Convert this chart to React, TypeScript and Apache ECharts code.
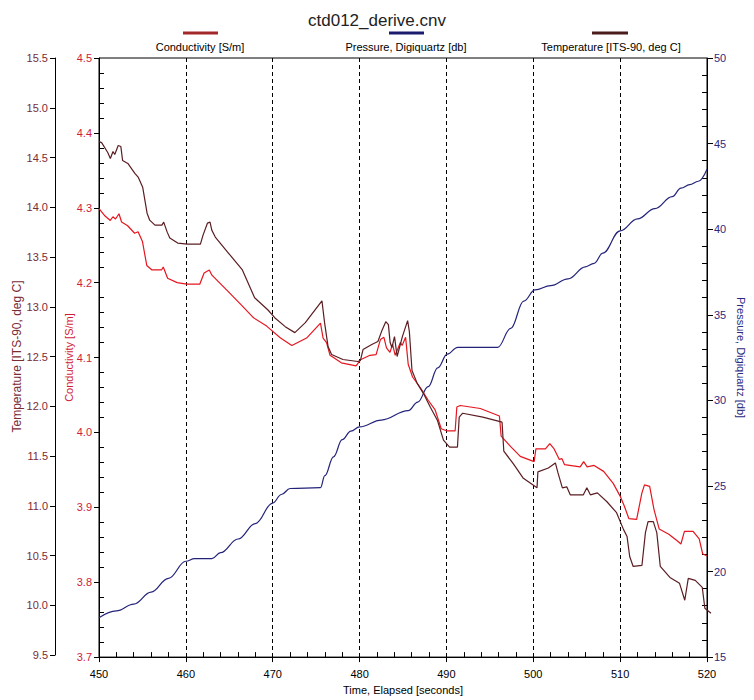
import { useEffect, useRef } from "react";
import * as echarts from "echarts";

const TITLE = "ctd012_derive.cnv";
const X_NAME = "Time, Elapsed [seconds]";
const COND_NAME = "Conductivity [S/m]";
const PRES_NAME = "Pressure, Digiquartz [db]";
const TEMP_NAME = "Temperature [ITS-90, deg C]";

const timeRange = [450, 520];
const condRange = [3.7, 4.5];
const presRange = [15, 50];
const tempRange = [9.5, 15.5];

// [time (s), conductivity (S/m)]
const conductivityPoints: [number, number][] = [
  [450, 4.299], [450.7, 4.289], [451.3, 4.283], [451.6, 4.288], [451.9, 4.285], [452.3, 4.292],
  [452.6, 4.281], [453.3, 4.276], [454.1, 4.266], [454.5, 4.268], [455, 4.255], [455.5, 4.223],
  [456.1, 4.217], [457.2, 4.217], [457.4, 4.221], [457.9, 4.206], [459, 4.2], [460.1, 4.198],
  [461.6, 4.198], [462.1, 4.213], [462.7, 4.217], [463, 4.21], [464.8, 4.189], [466.4, 4.17],
  [467.8, 4.153], [469.3, 4.142], [470.9, 4.126], [472.2, 4.116], [473.9, 4.126], [475.5, 4.146],
  [475.8, 4.126], [476.2, 4.12], [476.6, 4.103], [477.9, 4.093], [479.6, 4.089], [480.1, 4.097],
  [481.2, 4.103], [481.9, 4.104], [482.4, 4.124], [482.8, 4.127], [483.1, 4.113], [483.5, 4.107],
  [483.8, 4.118], [484.1, 4.103], [484.7, 4.12], [484.9, 4.116], [485.3, 4.127], [485.6, 4.091],
  [486.1, 4.074], [487.1, 4.058], [487.9, 4.043], [488.7, 4.03], [489.4, 4.005], [490.1, 4.002],
  [491, 4.002], [491.2, 4.034], [491.6, 4.036], [493.9, 4.032], [496.1, 4.022], [496.3, 3.995],
  [497.4, 3.981], [498.5, 3.968], [500.1, 3.961], [500.3, 3.978], [501.4, 3.978], [501.9, 3.985],
  [502.4, 3.978], [503, 3.964], [503.3, 3.965], [503.6, 3.957], [505.4, 3.954], [505.8, 3.961],
  [506.2, 3.954], [507, 3.956], [508.1, 3.948], [509.2, 3.932], [510, 3.915], [510.5, 3.901],
  [511, 3.885], [511.9, 3.884], [512.5, 3.919], [512.8, 3.93], [513.4, 3.928], [513.9, 3.897],
  [514.5, 3.871], [515.6, 3.864], [516.6, 3.855], [517, 3.851], [517.4, 3.868], [518.4, 3.868],
  [519.1, 3.858], [519.5, 3.838], [520, 3.835],
];

// [time (s), temperature (deg C)]
const temperaturePoints: [number, number][] = [
  [450, 14.66], [450.3, 14.65], [451, 14.55], [451.3, 14.49], [451.6, 14.56], [451.8, 14.53],
  [452.2, 14.62], [452.5, 14.61], [452.7, 14.47], [453.3, 14.44], [454.1, 14.34], [454.5, 14.3],
  [455, 14.2], [455.5, 13.94], [455.8, 13.87], [456.4, 13.82], [457.2, 13.82], [457.4, 13.85],
  [457.8, 13.75], [458.1, 13.69], [459, 13.64], [460.1, 13.63], [461.6, 13.63], [461.9, 13.72],
  [462.4, 13.84], [462.7, 13.85], [462.9, 13.77], [463.3, 13.7], [464.8, 13.54], [466.4, 13.37],
  [467.8, 13.09], [469.3, 12.97], [470.1, 12.89], [471.3, 12.8], [472.4, 12.74], [473.6, 12.84],
  [475.5, 13.06], [475.8, 12.84], [476.2, 12.6], [476.6, 12.52], [477.9, 12.47], [479.6, 12.45],
  [479.9, 12.46], [480.2, 12.57], [481.2, 12.62], [481.9, 12.65], [482.4, 12.77], [482.8, 12.85],
  [483.1, 12.82], [483.3, 12.64], [483.5, 12.59], [483.8, 12.7], [484.1, 12.5], [484.7, 12.7],
  [485, 12.78], [485.3, 12.86], [485.5, 12.75], [485.8, 12.36], [486.4, 12.23], [487.1, 12.13],
  [487.9, 11.99], [488.7, 11.86], [489.4, 11.66], [490.1, 11.59], [491, 11.59], [491.2, 11.89],
  [491.6, 11.93], [493.9, 11.89], [496.1, 11.84], [496.3, 11.55], [497.4, 11.42], [498.5, 11.28],
  [500.1, 11.18], [500.2, 11.34], [501.4, 11.38], [502.2, 11.43], [502.5, 11.33], [503, 11.18],
  [503.5, 11.19], [503.9, 11.11], [505.4, 11.11], [505.8, 11.18], [506.2, 11.11], [507, 11.13],
  [508.1, 11.04], [509.2, 10.93], [510, 10.76], [510.4, 10.69], [510.7, 10.49], [511.1, 10.39],
  [512.1, 10.4], [512.5, 10.73], [512.8, 10.84], [513.4, 10.84], [513.8, 10.73], [514.2, 10.39],
  [515.3, 10.28], [516.4, 10.22], [517, 10.05], [517.4, 10.27], [518.2, 10.25], [519, 10.18],
  [519.3, 9.97], [520, 9.92],
];

// [time (s), pressure (db)]
const pressurePoints: [number, number][] = [
  [450, 17.3], [452, 17.7], [454, 18.1], [456, 18.8], [458, 19.6], [460, 20.6], [461, 20.75],
  [463, 20.75], [464, 21.1], [466, 21.9], [468, 22.8], [470, 24.0], [471, 24.5], [472, 24.85],
  [475.5, 24.9], [476, 25.6], [477, 26.7], [478, 27.7], [479, 28.2], [480, 28.45], [482.5, 28.85],
  [485.6, 29.4], [486.7, 29.9], [487.9, 30.8], [489, 31.9], [490.1, 32.7], [491.3, 33.1],
  [495.9, 33.1], [497.4, 34.2], [498.9, 35.8], [500.2, 36.45], [502, 36.7], [504, 37.1],
  [506, 37.8], [507, 38.0], [508, 38.6], [510, 39.9], [512, 40.6], [514, 41.2], [516, 41.9],
  [517, 42.4], [518, 42.6], [519, 42.8], [520, 43.5],
];

const FONT = '"Liberation Sans", Arial, sans-serif';
const COND_COLOR = "#e5161f";
const TEMP_COLOR = "#5a1e22";
const PRES_COLOR = "#23237a";
const COND_LABEL = "#d01c3a";
const TEMP_LABEL = "#7a2c35";
const PRES_LABEL = "#2a2a80";

export default function App() {
  const ref = useRef<HTMLDivElement>(null);

  useEffect(() => {
    document.body.style.margin = "0";
    if (!ref.current) return;
    const chart = echarts.init(ref.current, undefined, { renderer: "svg" });

    const black = { color: "#000", width: 1 };

    const option: any = {
      animation: false,
      backgroundColor: "#fff",
      textStyle: { fontFamily: FONT },
      title: {
        text: TITLE,
        left: "center",
        top: 7,
        textStyle: { fontFamily: FONT, fontSize: 17, fontWeight: "normal", color: "#222" },
      },
      grid: [
        { left: 99, right: 43, top: 58, bottom: 38, show: true, borderColor: "#000", borderWidth: 1, backgroundColor: "transparent" },
        { left: 99, right: 43, top: 58, bottom: 45, show: false },
      ],
      xAxis: [
        {
          gridIndex: 0,
          type: "value",
          min: timeRange[0],
          max: timeRange[1],
          interval: 10,
          axisLine: { show: true, lineStyle: black },
          axisTick: { show: true, inside: false, length: 5, lineStyle: black },
          minorTick: { show: true, splitNumber: 5, length: -5, lineStyle: black },
          splitLine: { show: true, lineStyle: { color: "#000", width: 1, type: [4, 3] } },
          axisLabel: { color: "#000", fontSize: 11, margin: 11, fontFamily: FONT },
          name: X_NAME,
          nameLocation: "middle",
          nameGap: 25,
          nameTextStyle: { color: "#000", fontSize: 11, fontFamily: FONT },
        },
        { gridIndex: 1, type: "value", min: timeRange[0], max: timeRange[1], show: false },
      ],
      yAxis: [
        {
          gridIndex: 0,
          type: "value",
          position: "left",
          min: condRange[0],
          max: condRange[1],
          interval: 0.1,
          axisLine: { show: true, lineStyle: black },
          axisTick: { show: true, inside: false, length: 5, lineStyle: black },
          minorTick: { show: true, splitNumber: 5, length: -5, lineStyle: black },
          splitLine: { show: false },
          axisLabel: { color: COND_LABEL, fontSize: 11, margin: 7, fontFamily: FONT, formatter: (v: number) => v.toFixed(1) },
          name: COND_NAME,
          nameLocation: "middle",
          nameGap: 25,
          nameMoveOverlap: false,
          nameTextStyle: { color: COND_LABEL, fontSize: 11, fontFamily: FONT },
        },
        {
          gridIndex: 0,
          type: "value",
          position: "right",
          min: presRange[0],
          max: presRange[1],
          interval: 5,
          axisLine: { show: true, lineStyle: black },
          axisTick: { show: true, inside: false, length: 6, lineStyle: black },
          minorTick: { show: true, splitNumber: 5, length: -5, lineStyle: black },
          splitLine: { show: false },
          axisLabel: { color: PRES_LABEL, fontSize: 11, margin: 7, fontFamily: FONT },
          name: PRES_NAME,
          nameLocation: "middle",
          nameRotate: -90,
          nameGap: 28,
          nameMoveOverlap: false,
          nameTextStyle: { color: PRES_LABEL, fontSize: 11, fontFamily: FONT },
        },
        {
          gridIndex: 1,
          type: "value",
          position: "left",
          offset: 44,
          min: tempRange[0],
          max: tempRange[1],
          interval: 0.5,
          axisLine: { show: true, lineStyle: black },
          axisTick: { show: true, inside: false, length: 5, lineStyle: black },
          splitLine: { show: false },
          axisLabel: { color: TEMP_LABEL, fontSize: 11, margin: 7, fontFamily: FONT, formatter: (v: number) => v.toFixed(1) },
          name: TEMP_NAME,
          nameLocation: "middle",
          nameGap: 32,
          nameMoveOverlap: false,
          nameTextStyle: { color: TEMP_LABEL, fontSize: 12, fontFamily: FONT },
        },
      ],
      graphic: [
        { type: "line", shape: { x1: 183, y1: 33, x2: 218, y2: 33 }, style: { stroke: "#a3282a", lineWidth: 3 } },
        { type: "text", x: 200, y: 47, style: { text: COND_NAME, fill: "#000", font: `11px ${FONT}`, textAlign: "center", textVerticalAlign: "middle" } },
        { type: "line", shape: { x1: 389, y1: 33, x2: 424, y2: 33 }, style: { stroke: "#1c1c6e", lineWidth: 3 } },
        { type: "text", x: 406, y: 47, style: { text: PRES_NAME, fill: "#000", font: `11px ${FONT}`, textAlign: "center", textVerticalAlign: "middle" } },
        { type: "line", shape: { x1: 592, y1: 33, x2: 628, y2: 33 }, style: { stroke: "#4a1c1c", lineWidth: 3 } },
        { type: "text", x: 611, y: 47, style: { text: TEMP_NAME, fill: "#000", font: `11px ${FONT}`, textAlign: "center", textVerticalAlign: "middle" } },
      ],
      series: [
        {
          type: "line",
          name: PRES_NAME,
          xAxisIndex: 0,
          yAxisIndex: 1,
          data: pressurePoints,
          symbol: "none",
          smooth: 0.4,
          smoothMonotone: "x",
          lineStyle: { color: PRES_COLOR, width: 1.2 },
        },
        {
          type: "line",
          name: COND_NAME,
          xAxisIndex: 0,
          yAxisIndex: 0,
          data: conductivityPoints,
          symbol: "none",
          lineStyle: { color: COND_COLOR, width: 1.2 },
        },
        {
          type: "line",
          name: TEMP_NAME,
          xAxisIndex: 1,
          yAxisIndex: 2,
          data: temperaturePoints,
          symbol: "none",
          lineStyle: { color: TEMP_COLOR, width: 1.2 },
        },
      ],
    };

    chart.setOption(option);
    return () => chart.dispose();
  }, []);

  return <div ref={ref} style={{ width: 754, height: 700 }} />;
}
